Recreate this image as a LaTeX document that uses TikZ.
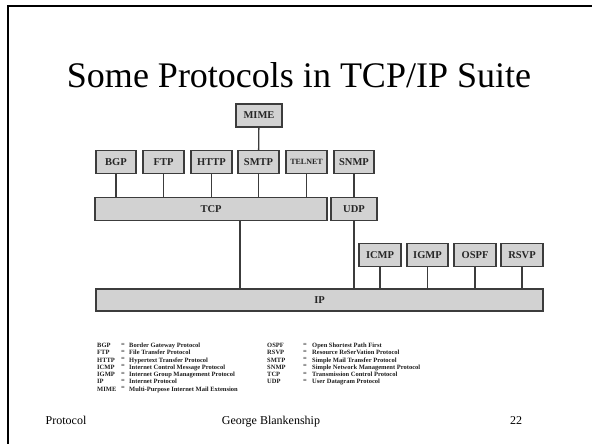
\documentclass[tikz,border=0pt]{standalone}
\usepackage{fontspec}
\setmainfont{Liberation Serif}
\usepackage{tikz}
\usetikzlibrary{positioning}
\definecolor{boxfill}{HTML}{D2D2D2}
\definecolor{boxline}{HTML}{3C3C3C}
\definecolor{legendtext}{HTML}{1E1E1E}
\tikzset{
	protonode/.style = {
		align=center,
		inner sep=0pt,
		text centered,
		draw=boxline,
		fill=boxfill,
		line width=1.3pt,
		font=\bfseries\fontsize{10.5}{10.5}\selectfont,
		text=black!85
	},
	node_small/.style = {
		protonode,
		minimum width=40pt,
		minimum height=23pt
	},
	node_wide/.style = {
		protonode,
		minimum height=23pt
	},
	node_legend/.style = {
		anchor=north west,
		align=left,
		inner sep=0pt,
		text=legendtext,
		font=\bfseries\fontsize{6.5}{7.25}\selectfont
	},
	link/.style = {
		draw=boxline,
		line width=1.3pt
	},
}
\begin{document}
\begin{tikzpicture}[x=1pt,y=-1pt]
\useasboundingbox (0,0) rectangle (592,444);
\draw[line width=2pt] (592,6) -- (8,6) -- (8,444);
\node [anchor=base, font=\fontsize{36}{36}\selectfont] (title) at (299,88) {Some Protocols in TCP/IP Suite};
\node [node_small, minimum width=46pt] (mime) at (259,115.5) {MIME};
\node [node_small] (bgp) at (116,162) {BGP};
\node [node_small, minimum width=41pt] (ftp) at (163.5,162) {FTP};
\node [node_small, minimum width=41pt] (http) at (211.5,162) {HTTP};
\node [node_small, minimum width=41pt] (smtp) at (258.5,162) {SMTP};
\node [node_small, minimum width=41pt, font=\bfseries\fontsize{8}{8}\selectfont] (telnet) at (306.5,162) {TELNET};
\node [node_small] (snmp) at (354,162) {SNMP};
\node [node_wide, minimum width=232pt] (tcp) at (211,209) {TCP};
\node [node_wide, minimum width=46pt] (udp) at (354,209) {UDP};
\node [node_small, minimum width=42pt] (icmp) at (380,255) {ICMP};
\node [node_small, minimum width=41pt] (igmp) at (427.5,255) {IGMP};
\node [node_small, minimum width=42pt] (ospf) at (475,255) {OSPF};
\node [node_small, minimum width=42pt] (rsvp) at (522,255) {RSVP};
\node [node_wide, minimum width=447pt, minimum height=22pt] (ip) at (319.5,300) {IP};
\draw[link] (mime) -- (smtp);
\foreach \n in {bgp,ftp,http,smtp,telnet,snmp}
	\draw[link] (\n.south) -- (\n.south |- tcp.north);
\path (tcp.south) ++(29,0) coordinate (tcp_out);
\draw[link] (tcp_out) -- (tcp_out |- ip.north);
\draw[link] (udp.south) -- (udp.south |- ip.north);
\foreach \n in {icmp,igmp,ospf,rsvp}
	\draw[link] (\n.south) -- (\n.south |- ip.north);
\node [node_legend] (abbr_a) at (97,343) {BGP\\FTP\\HTTP\\ICMP\\IGMP\\IP\\MIME};
\node [node_legend] (eq_a) at (121,343) {=\\=\\=\\=\\=\\=\\=};
\node [node_legend] (desc_a) at (129,343) {Border Gateway Protocol\\File Transfer Protocol\\Hypertext Transfer Protocol\\Internet Control Message Protocol\\Internet Group Management Protocol\\Internet Protocol\\Multi-Purpose Internet Mail Extension};
\node [node_legend] (abbr_b) at (267,343) {OSPF\\RSVP\\SMTP\\SNMP\\TCP\\UDP};
\node [node_legend] (eq_b) at (303,343) {=\\=\\=\\=\\=\\=};
\node [node_legend] (desc_b) at (312,343) {Open Shortest Path First\\Resource ReSerVation Protocol\\Simple Mail Transfer Protocol\\Simple Network Management Protocol\\Transmission Control Protocol\\User Datagram Protocol};
\node [anchor=base, font=\fontsize{12}{12}\selectfont] (foot_l) at (66,424) {Protocol};
\node [anchor=base, font=\fontsize{12}{12}\selectfont] (foot_c) at (271,424) {George Blankenship};
\node [anchor=base, font=\fontsize{12}{12}\selectfont] (foot_r) at (516,424) {22};
\end{tikzpicture}
\end{document}
